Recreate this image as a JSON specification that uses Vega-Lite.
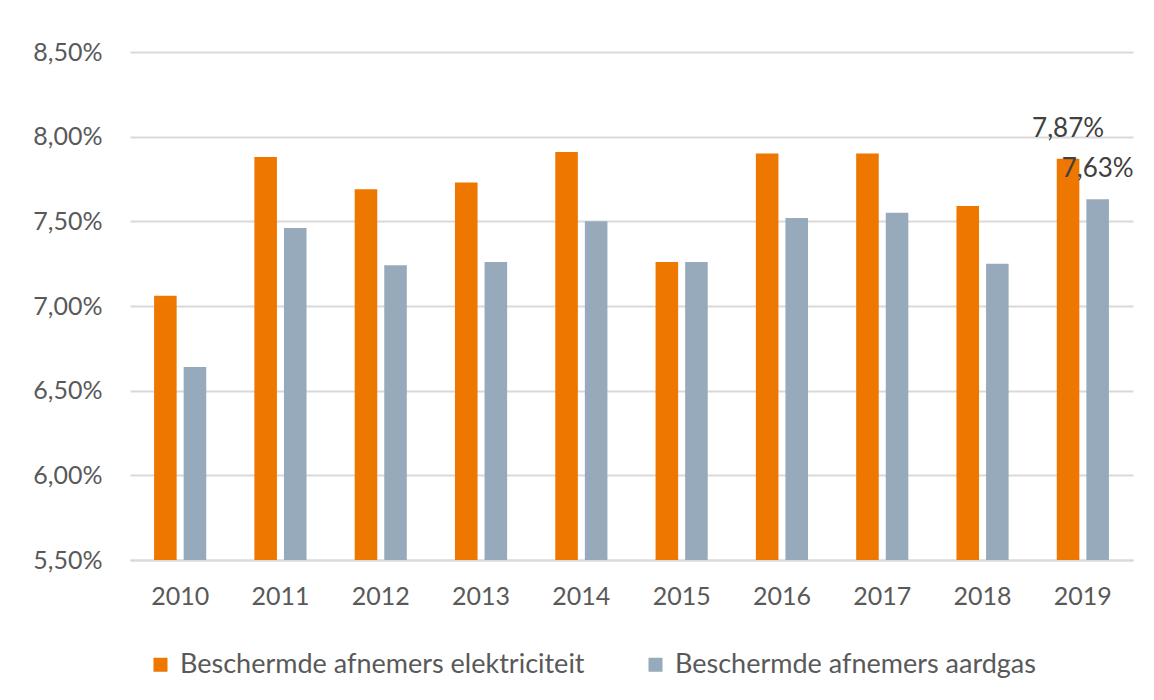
{
  "$schema": "https://vega.github.io/schema/vega-lite/v6.json",
  "autosize": "none",
  "width": 1003,
  "height": 508,
  "padding": {"left": 130, "top": 52, "right": 21, "bottom": 140},
  "background": "white",
  "config": {
    "locale": {"number": {"decimal": ",", "thousands": ".", "grouping": [3], "currency": ["€", ""]}},
    "view": {"stroke": null},
    "font": "Lato"
  },
  "data": {
    "values": [
      {"jaar": "2010", "reeks": "Beschermde afnemers elektriciteit", "waarde": 0.0706},
      {"jaar": "2010", "reeks": "Beschermde afnemers aardgas", "waarde": 0.0664},
      {"jaar": "2011", "reeks": "Beschermde afnemers elektriciteit", "waarde": 0.0788},
      {"jaar": "2011", "reeks": "Beschermde afnemers aardgas", "waarde": 0.0746},
      {"jaar": "2012", "reeks": "Beschermde afnemers elektriciteit", "waarde": 0.0769},
      {"jaar": "2012", "reeks": "Beschermde afnemers aardgas", "waarde": 0.0724},
      {"jaar": "2013", "reeks": "Beschermde afnemers elektriciteit", "waarde": 0.0773},
      {"jaar": "2013", "reeks": "Beschermde afnemers aardgas", "waarde": 0.0726},
      {"jaar": "2014", "reeks": "Beschermde afnemers elektriciteit", "waarde": 0.0791},
      {"jaar": "2014", "reeks": "Beschermde afnemers aardgas", "waarde": 0.0750},
      {"jaar": "2015", "reeks": "Beschermde afnemers elektriciteit", "waarde": 0.0726},
      {"jaar": "2015", "reeks": "Beschermde afnemers aardgas", "waarde": 0.0726},
      {"jaar": "2016", "reeks": "Beschermde afnemers elektriciteit", "waarde": 0.0790},
      {"jaar": "2016", "reeks": "Beschermde afnemers aardgas", "waarde": 0.0752},
      {"jaar": "2017", "reeks": "Beschermde afnemers elektriciteit", "waarde": 0.0790},
      {"jaar": "2017", "reeks": "Beschermde afnemers aardgas", "waarde": 0.0755},
      {"jaar": "2018", "reeks": "Beschermde afnemers elektriciteit", "waarde": 0.0759},
      {"jaar": "2018", "reeks": "Beschermde afnemers aardgas", "waarde": 0.0725},
      {"jaar": "2019", "reeks": "Beschermde afnemers elektriciteit", "waarde": 0.0787},
      {"jaar": "2019", "reeks": "Beschermde afnemers aardgas", "waarde": 0.0763}
    ]
  },
  "encoding": {
    "x": {
      "field": "jaar",
      "type": "nominal",
      "scale": {"paddingInner": 0.48, "paddingOuter": 0.24},
      "axis": {
        "title": null,
        "labelAngle": 0,
        "labelFont": "Lato",
        "labelFontSize": 25,
        "labelColor": "#595959",
        "labelPadding": 24,
        "ticks": false,
        "domain": true,
        "domainColor": "#d9d9d9",
        "domainWidth": 2,
        "grid": false
      }
    },
    "xOffset": {
      "field": "reeks",
      "type": "nominal",
      "sort": ["Beschermde afnemers elektriciteit", "Beschermde afnemers aardgas"],
      "scale": {"paddingInner": 0.237, "paddingOuter": 0}
    },
    "y": {
      "field": "waarde",
      "type": "quantitative",
      "scale": {"domain": [0.055, 0.085], "zero": false, "nice": false},
      "axis": {
        "title": null,
        "values": [0.055, 0.06, 0.065, 0.07, 0.075, 0.08, 0.085],
        "format": ".2%",
        "labelFont": "Lato",
        "labelFontSize": 25,
        "labelColor": "#595959",
        "labelPadding": 28,
        "ticks": false,
        "domain": false,
        "grid": true,
        "gridColor": "#d9d9d9",
        "gridWidth": 2
      }
    }
  },
  "layer": [
    {
      "mark": {"type": "bar", "clip": true},
      "encoding": {
        "color": {
          "field": "reeks",
          "type": "nominal",
          "scale": {
            "domain": ["Beschermde afnemers elektriciteit", "Beschermde afnemers aardgas"],
            "range": ["#EE7700", "#97AABB"]
          },
          "legend": {
            "title": null,
            "orient": "none",
            "direction": "horizontal",
            "legendX": 17,
            "legendY": 599,
            "symbolType": "square",
            "symbolSize": 196,
            "symbolStrokeWidth": 0,
            "labelFont": "Lato",
            "labelFontSize": 27,
            "labelColor": "#595959",
            "labelOffset": 6,
            "labelLimit": 600,
            "columnPadding": 57
          }
        }
      }
    },
    {
      "transform": [{"filter": "datum.jaar == '2019'"}],
      "mark": {"type": "text", "baseline": "alphabetic", "dy": -22, "font": "Lato", "fontSize": 26, "color": "#404040"},
      "encoding": {
        "text": {"field": "waarde", "type": "quantitative", "format": ".2%"}
      }
    }
  ]
}
